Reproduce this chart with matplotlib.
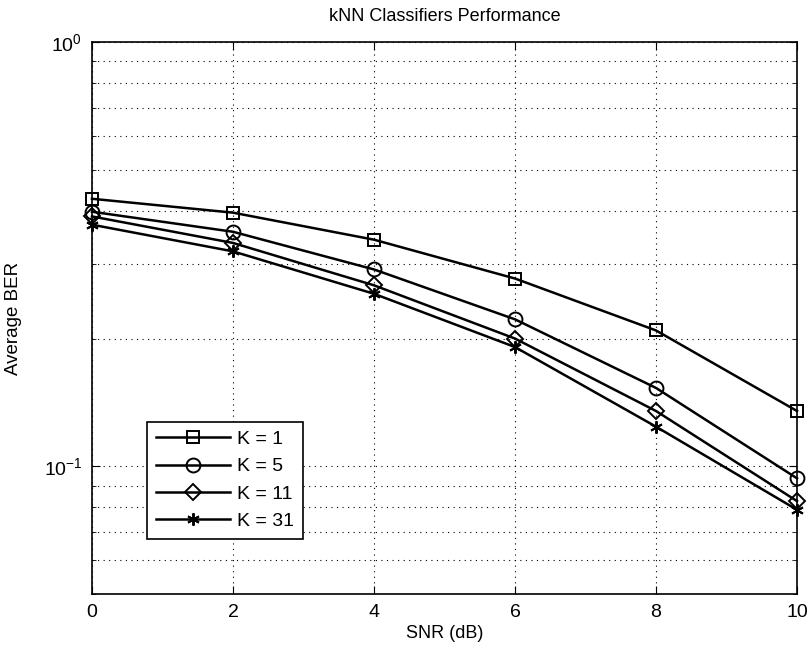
import numpy as np
import matplotlib
matplotlib.use('Agg')
import matplotlib.pyplot as plt
from matplotlib.ticker import LogLocator, NullFormatter

plt.rcParams['font.family'] = ['Liberation Sans', 'DejaVu Sans']

snr = [0, 2, 4, 6, 8, 10]
ber_k1 = [0.427, 0.396, 0.342, 0.277, 0.209, 0.135]
ber_k5 = [0.398, 0.357, 0.291, 0.222, 0.153, 0.0937]
ber_k11 = [0.388, 0.336, 0.267, 0.200, 0.135, 0.0828]
ber_k31 = [0.371, 0.321, 0.255, 0.191, 0.124, 0.079]
labels = ['K = 1', 'K = 5', 'K = 11', 'K = 31']

fig = plt.figure(figsize=(8.09, 6.55), dpi=100)
ax = fig.add_axes([0.1137, 0.093, 0.8715, 0.843])

style = dict(color='black', linewidth=1.8, markerfacecolor='none',
             markeredgecolor='black', markeredgewidth=1.4, clip_on=False, zorder=3)
ax.plot(snr, ber_k1, marker='s', markersize=8, label=labels[0], **style)
ax.plot(snr, ber_k5, marker='o', markersize=10, label=labels[1], **style)
ax.plot(snr, ber_k11, marker='D', markersize=8, label=labels[2], **style)
ax.plot(snr, ber_k31, marker=(6, 2, 0), markersize=9, label=labels[3], **style)

ax.set_yscale('log')
ax.set_xlim(0, 10)
ax.set_ylim(0.05, 1)
ax.set_xticks([0, 2, 4, 6, 8, 10])
ax.yaxis.set_major_locator(LogLocator(base=10, numticks=5))
ax.yaxis.set_minor_locator(LogLocator(base=10, subs=np.arange(2, 10), numticks=10))
ax.yaxis.set_minor_formatter(NullFormatter())

ax.grid(True, which='major', axis='both', linestyle=(0, (1, 4)), color='black', linewidth=0.8)
ax.grid(True, which='minor', axis='y', linestyle=(0, (1, 4)), color='black', linewidth=0.8)
ax.tick_params(which='both', direction='in', top=True, right=True, labelsize=14, pad=7)
ax.tick_params(which='major', length=6)
ax.tick_params(which='minor', length=3)
for s in ax.spines.values():
    s.set_linewidth(1.2)

ax.set_xlabel('SNR (dB)', fontsize=13, labelpad=3)
ax.set_ylabel('Average BER', fontsize=13.5)
ax.yaxis.set_label_coords(-0.099, 0.5)
ax.set_title('kNN Classifiers Performance', fontsize=13, pad=15)

leg = ax.legend(loc='lower left', bbox_to_anchor=(0.078, 0.1), borderaxespad=0,
                fontsize=14, fancybox=False, edgecolor='black', framealpha=1,
                handlelength=3.8, borderpad=0.45, labelspacing=0.5, handletextpad=0.4)
leg.get_frame().set_linewidth(1.2)

plt.savefig('out.png', dpi=100)
